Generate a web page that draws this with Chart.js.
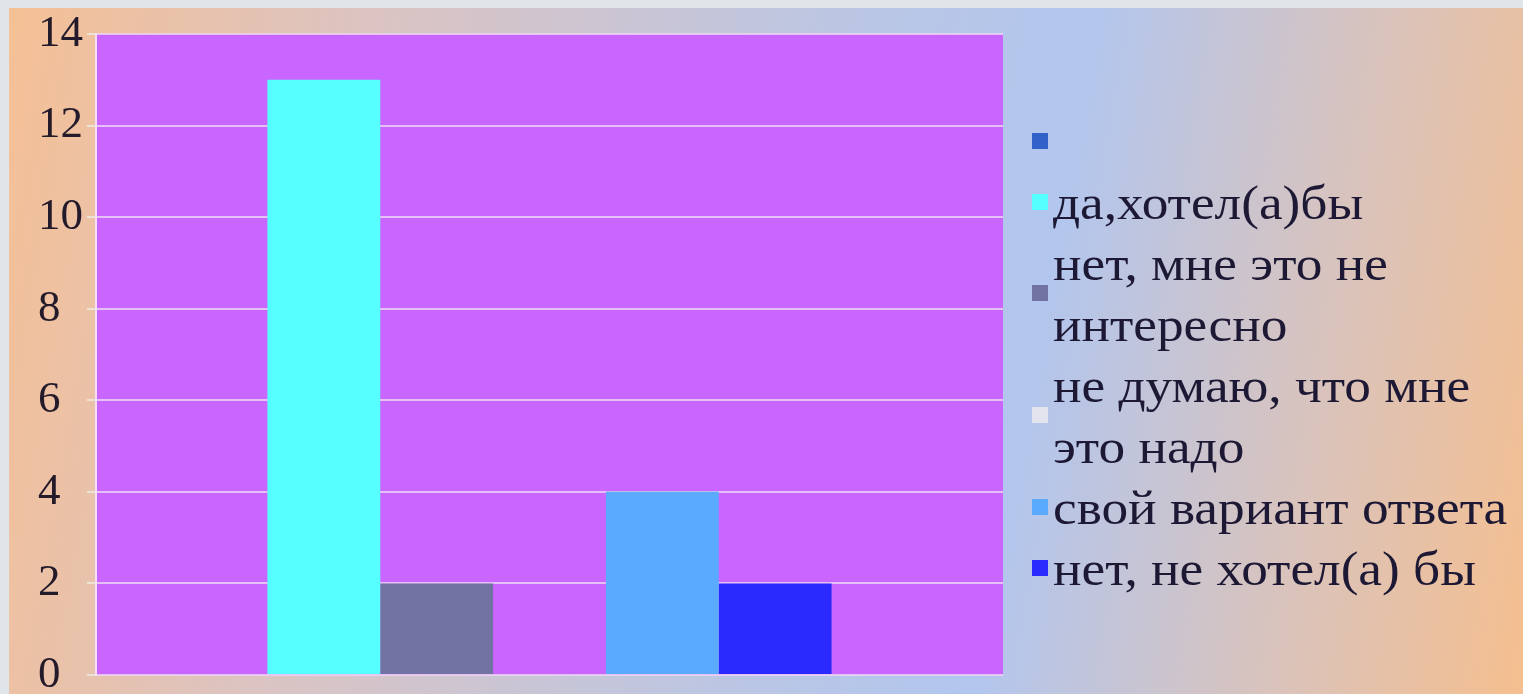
<!DOCTYPE html>
<html>
<head>
<meta charset="utf-8">
<script src="https://cdn.jsdelivr.net/npm/chart.js@4.4.1/dist/chart.umd.min.js"></script>
<style>
  html, body { margin: 0; padding: 0; width: 1523px; height: 694px; overflow: hidden; background: #dfe5e9; }
  #frame {
    position: absolute; left: 9px; top: 8px; width: 1514px; height: 720px;
    background: linear-gradient(100deg, #f5c095 0%, #dcc4c2 22%, #bac6e4 52%, #b2c6ee 66%, #d9c3bc 84%, #f6bf8e 100%);
  }
  #box { position: absolute; left: 0; top: 0; width: 1514px; height: 720px; }
  #legend {
    position: absolute; left: 1023px; top: 103px;
    font-family: "Liberation Serif", serif; font-size: 48px; line-height: 61px; color: #1d1935;
  }
  .item { position: relative; padding-left: 21px; white-space: nowrap; }
  .item .sw { position: absolute; left: 0; top: 50%; width: 16px; height: 16px; margin-top: -9px; }
  .item .ln { transform: scaleX(1.11); transform-origin: 0 50%; }
</style>
</head>
<body>
<div id="frame">
  <div id="box"><canvas id="chart"></canvas></div>
  <div id="legend"></div>
</div>
<script>
// данные диаграммы
const categories = [""];
const seriesNames = [
  [""],
  ["да,хотел(а)бы"],
  ["нет, мне это не", "интересно"],
  ["не думаю, что мне", "это надо"],
  ["свой вариант ответа"],
  ["нет, не хотел(а) бы"]
];
const seriesValues = [null, 13, 2, 0, 4, 2];
const seriesColors = ["#3162c9", "#55ffff", "#7373a3", "#e4e4ee", "#5aabff", "#2a2aff"];
const yTicks = [0, 2, 4, 6, 8, 10, 12, 14];

// заливка области построения
const plotBg = {
  id: "plotBg",
  beforeDraw(chart) {
    const a = chart.chartArea;
    const c = chart.ctx;
    c.save();
    c.fillStyle = "#c966ff";
    c.fillRect(a.left, a.top, a.right - a.left, a.bottom - a.top);
    c.restore();
  }
};

const datasets = seriesNames.map((n, i) => ({
  label: n.join(" "),
  data: [seriesValues[i]],
  backgroundColor: seriesColors[i],
  borderWidth: 0,
  hidden: seriesValues[i] === null,
  categoryPercentage: 0.622,
  barPercentage: 1.0
}));

new Chart(document.getElementById("chart"), {
  type: "bar",
  data: { labels: categories, datasets: datasets },
  options: {
    responsive: true,
    maintainAspectRatio: false,
    animation: false,
    layout: { padding: { left: 29, top: 26, right: 520, bottom: 53 } },
    plugins: { legend: { display: false }, tooltip: { enabled: false } },
    scales: {
      x: { display: false },
      y: {
        min: yTicks[0],
        max: yTicks[yTicks.length - 1],
        afterFit: (s) => { s.width = 58; },
        afterBuildTicks: (s) => { s.ticks = yTicks.map(v => ({ value: v })); },
        border: { display: true, color: "#f6def6", width: 2 },
        grid: { color: "rgba(236,214,242,0.8)", lineWidth: 2, tickLength: 9, tickColor: "rgba(236,230,220,0.9)" },
        ticks: {
          crossAlign: "far",
          color: "#231a2a",
          font: { family: "Liberation Serif", size: 45, lineHeight: 1 }
        }
      }
    }
  },
  plugins: [plotBg]
});

// легенда справа
const legend = document.getElementById("legend");
seriesNames.forEach((lines, i) => {
  const item = document.createElement("div");
  item.className = "item";
  const sw = document.createElement("span");
  sw.className = "sw";
  sw.style.background = seriesColors[i];
  item.appendChild(sw);
  lines.forEach(t => {
    const d = document.createElement("div");
    d.className = "ln";
    d.textContent = t || "\u00a0";
    item.appendChild(d);
  });
  legend.appendChild(item);
});
</script>
</body>
</html>
